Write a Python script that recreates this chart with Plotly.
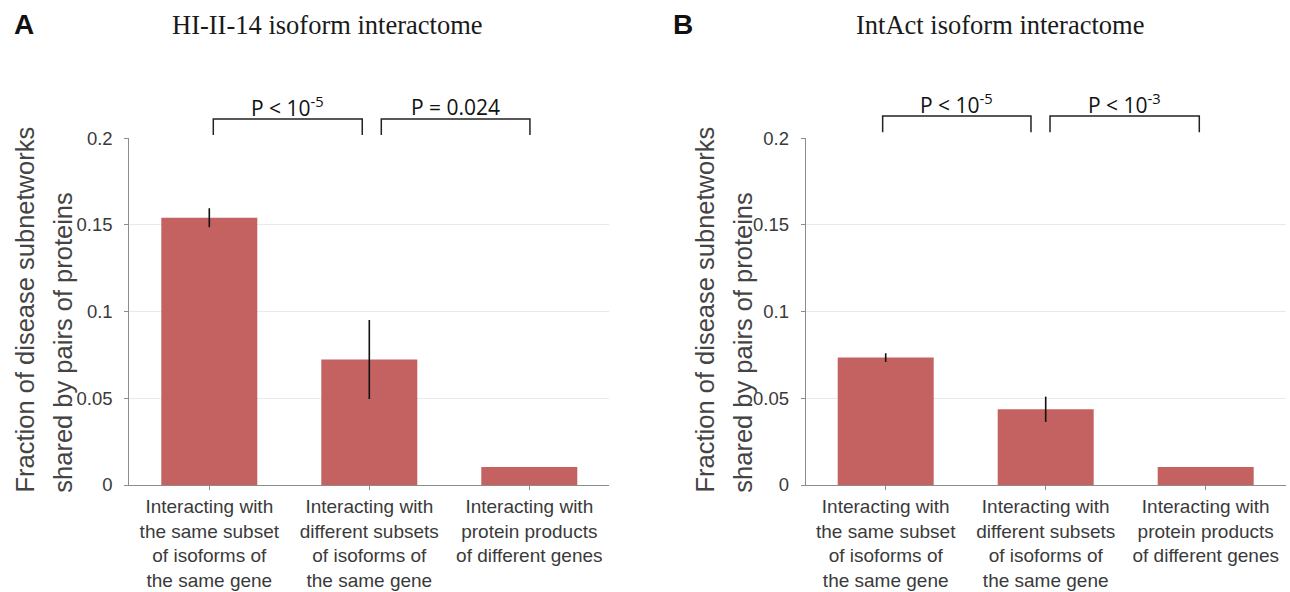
import plotly.graph_objects as go

# ---------------- data ----------------
categories = [
    "Interacting with<br>the same subset<br>of isoforms of<br>the same gene",
    "Interacting with<br>different subsets<br>of isoforms of<br>the same gene",
    "Interacting with<br>protein products<br>of different genes",
]
hi_values = [0.1542, 0.0724, 0.0104]
hi_errors = [0.0055, 0.0228, 0.0]
intact_values = [0.0735, 0.0437, 0.0104]
intact_errors = [0.0025, 0.0073, 0.0]
y_ticks = [0, 0.05, 0.1, 0.15, 0.2]
y_tick_labels = ["0", "0.05", "0.1", "0.15", "0.2"]
hi_pvalues = ["P < 10<sup>-5</sup>", "P = 0.024"]
intact_pvalues = ["P < 10<sup>-5</sup>", "P < 10<sup>-3</sup>"]
panel_titles = ["HI-II-14 isoform interactome", "IntAct isoform interactome"]
y_title_lines = ["Fraction of disease subnetworks", "shared by pairs of proteins"]

# ---------------- style ----------------
W, H = 1290, 592
BAR = "#c46262"
AXC = "#8c8c8c"
TICKC = "#3a3a3a"
SANS = "Liberation Sans, Arial, Helvetica, sans-serif"
SERIF = "Liberation Serif, Times New Roman, serif"
PFONT = "Open Sans, sans-serif"

def px_x(p):
    return p / W

def px_y(p):
    return 1 - p / H

x = list(range(len(categories)))

fig = go.Figure()
fig.add_trace(go.Bar(
    x=x, y=hi_values, width=0.6, marker=dict(color=BAR, line=dict(width=0)),
    error_y=dict(type="data", array=hi_errors, visible=True, color="#111111",
                 thickness=1.6, width=0),
    xaxis="x", yaxis="y", showlegend=False, hoverinfo="skip",
))
fig.add_trace(go.Bar(
    x=x, y=intact_values, width=0.6, marker=dict(color=BAR, line=dict(width=0)),
    error_y=dict(type="data", array=intact_errors, visible=True, color="#111111",
                 thickness=1.6, width=0),
    xaxis="x2", yaxis="y2", showlegend=False, hoverinfo="skip",
))

xaxis_common = dict(
    range=[-0.5, 2.5], tickmode="array", tickvals=x, ticktext=categories,
    showline=True, linecolor=AXC, linewidth=1, ticks="outside", ticklen=4,
    tickcolor=AXC, showgrid=False, zeroline=False, automargin=False,
    tickfont=dict(family=SANS, size=19, color=TICKC), fixedrange=True,
)
yaxis_common = dict(
    range=[0, 0.2], tickmode="array", tickvals=y_ticks, ticktext=y_tick_labels,
    showline=True, linecolor=AXC, linewidth=1, ticks="outside", ticklen=4,
    tickcolor=AXC, showgrid=True, gridcolor="#e9e9e9", gridwidth=1,
    zeroline=False, automargin=False, ticklabelstandoff=8,
    tickfont=dict(family=SANS, size=18.5, color=TICKC),
    fixedrange=True,
)

ydom = [px_y(485), px_y(138.3)]
fig.update_layout(
    width=W, height=H,
    margin=dict(l=0, r=0, t=0, b=0, pad=0, autoexpand=False),
    paper_bgcolor="white", plot_bgcolor="white", showlegend=False,
    hovermode=False,
    xaxis=dict(domain=[px_x(129.3), px_x(609.3)], anchor="y", **xaxis_common),
    yaxis=dict(domain=ydom, anchor="x", **yaxis_common),
    xaxis2=dict(domain=[px_x(805.7), px_x(1285.7)], anchor="y2", **xaxis_common),
    yaxis2=dict(domain=ydom, anchor="x2", **yaxis_common),
)

annotations = []
shapes = []

# panel letters and titles
for letter, lx, title, tx in [("A", 24, panel_titles[0], 327.5),
                              ("B", 683, panel_titles[1], 1000)]:
    annotations.append(dict(text="<b>" + letter + "</b>", x=px_x(lx), y=px_y(25),
                            xref="paper", yref="paper", showarrow=False,
                            xanchor="center", yanchor="middle",
                            font=dict(family=SANS, size=28, color="#111111")))
    annotations.append(dict(text=title, x=px_x(tx), y=px_y(25), xref="paper",
                            yref="paper", showarrow=False, xanchor="center",
                            yanchor="middle",
                            font=dict(family=SERIF, size=26.5, color="#1a1a1a")))

# y-axis titles (two lines each, left-aligned in rotated frame)
for offs in [0, 680]:
    for line, cx in zip(y_title_lines, [24.5, 62.2]):
        annotations.append(dict(text=line, x=px_x(cx + offs), y=px_y(495),
                                xref="paper", yref="paper", showarrow=False,
                                textangle=-90, xanchor="center", yanchor="bottom",
                                font=dict(family=SANS, size=25.5, color="#444444")))

# significance brackets
def bracket(xref, x0, x1, ytop, ybot, label, ytext):
    shapes.append(dict(type="path", xref=xref, yref="paper",
                       path=f"M {x0},{ybot} L {x0},{ytop} L {x1},{ytop} L {x1},{ybot}",
                       line=dict(color="#222222", width=1.5)))
    annotations.append(dict(text=label, x=(x0 + x1) / 2, y=ytext, xref=xref,
                            yref="paper", showarrow=False, xanchor="center",
                            yanchor="middle",
                            font=dict(family=PFONT, size=21, color="#111111")))

bracket("x", 0.025, 0.956, px_y(119), px_y(135), hi_pvalues[0], px_y(106.7))
bracket("x", 1.075, 2.004, px_y(119), px_y(135), hi_pvalues[1], px_y(106.7))
bracket("x2", -0.019, 0.908, px_y(116), px_y(132.3), intact_pvalues[0], px_y(103.7))
bracket("x2", 1.027, 1.96, px_y(116), px_y(132.3), intact_pvalues[1], px_y(103.7))

fig.update_layout(annotations=annotations, shapes=shapes)
fig.write_html(
    "out.html",
    config={"displayModeBar": False, "staticPlot": True},
    post_script="document.body.style.margin='0px';"
                "document.documentElement.style.overflow='hidden';",
)
